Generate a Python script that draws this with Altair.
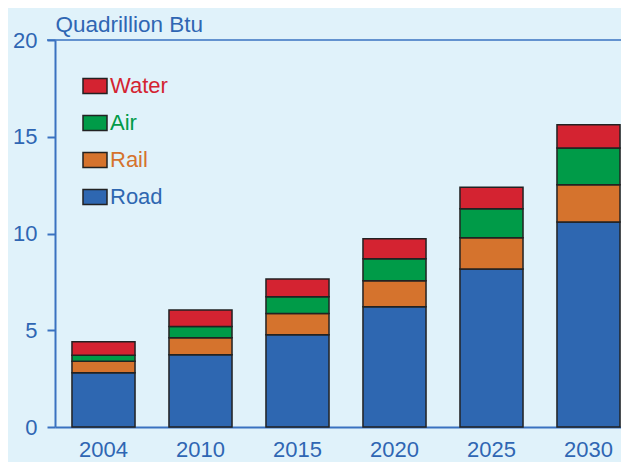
import altair as alt
import pandas as pd

years = ["2004", "2010", "2015", "2020", "2025", "2030"]
road = [2.81, 3.74, 4.77, 6.22, 8.17, 10.59]
rail = [0.59, 0.87, 1.09, 1.34, 1.61, 1.93]
air = [0.31, 0.59, 0.87, 1.14, 1.50, 1.90]
water = [0.69, 0.85, 0.92, 1.03, 1.11, 1.20]
modes = ["Water", "Air", "Rail", "Road"]
colors = ["#D42331", "#009B48", "#D5732D", "#2E67B1"]
y_ticks = [0, 5, 10, 15, 20]

series = {"Road": road, "Rail": rail, "Air": air, "Water": water}
stack_order = {"Road": 0, "Rail": 1, "Air": 2, "Water": 3}
rows = []
for m, vals in series.items():
    for yr, v in zip(years, vals):
        rows.append({"year": yr, "mode": m, "value": v, "ord": stack_order[m]})
df = pd.DataFrame(rows)

AX = "#3a72c0"
TX = "#2f66b3"
FONT = "Liberation Sans"
FS = 22
W, H = 566, 387

bars = alt.Chart(df).mark_bar(stroke="#222222", strokeWidth=1.5).encode(
    x=alt.X("year:N", sort=years,
            scale=alt.Scale(range=[0, 582], paddingInner=0.35, paddingOuter=0.175),
            axis=alt.Axis(title=None, labelAngle=0, ticks=False, labelPadding=12,
                          domainColor=AX, domainWidth=2, labelColor=TX,
                          labelFontSize=FS, labelFont=FONT)),
    y=alt.Y("value:Q", stack="zero",
            scale=alt.Scale(domain=[0, 20], nice=False),
            axis=alt.Axis(values=y_ticks, title="Quadrillion Btu", titleAngle=0,
                          titleX=0, titleY=-9, titleAlign="left",
                          titleBaseline="alphabetic", titleColor=TX,
                          titleFontSize=22.5, titleFontWeight="normal", titleFont=FONT,
                          grid=False, tickSize=8, tickColor=AX, tickWidth=2,
                          domainColor=AX, domainWidth=2, labelColor=TX,
                          labelFontSize=FS, labelFont=FONT, labelPadding=10)),
    color=alt.Color("mode:N", scale=alt.Scale(domain=modes, range=colors),
                    legend=alt.Legend(orient="none", legendX=27, legendY=33,
                                      title=None,
                                      symbolType="M-1,-0.625L1,-0.625L1,0.625L-1,0.625Z",
                                      symbolSize=576, symbolOpacity=1,
                                      symbolStrokeColor="#222222", symbolStrokeWidth=1.5,
                                      labelFontSize=FS, labelFont=FONT, labelOffset=2,
                                      rowPadding=13,
                                      labelColor=alt.ExprRef(expr="scale('color', datum.value)"))),
    order=alt.Order("ord:Q"),
)

top_line = alt.Chart(pd.DataFrame({"top": [20]})).mark_rule(
    color=AX, strokeWidth=1.5
).encode(y=alt.Y("top:Q"), x=alt.value(-8), x2=alt.value(W + 20))

chart = alt.layer(bars, top_line).properties(
    width=W, height=H,
    autosize=alt.AutoSizeParams(type="none"),
    padding={"left": 47, "top": 32, "right": 0, "bottom": 40},
    background="#E0F2FA",
).configure_view(stroke=None)

chart.save("out.html", embed_options={"renderer": "svg", "actions": False})
